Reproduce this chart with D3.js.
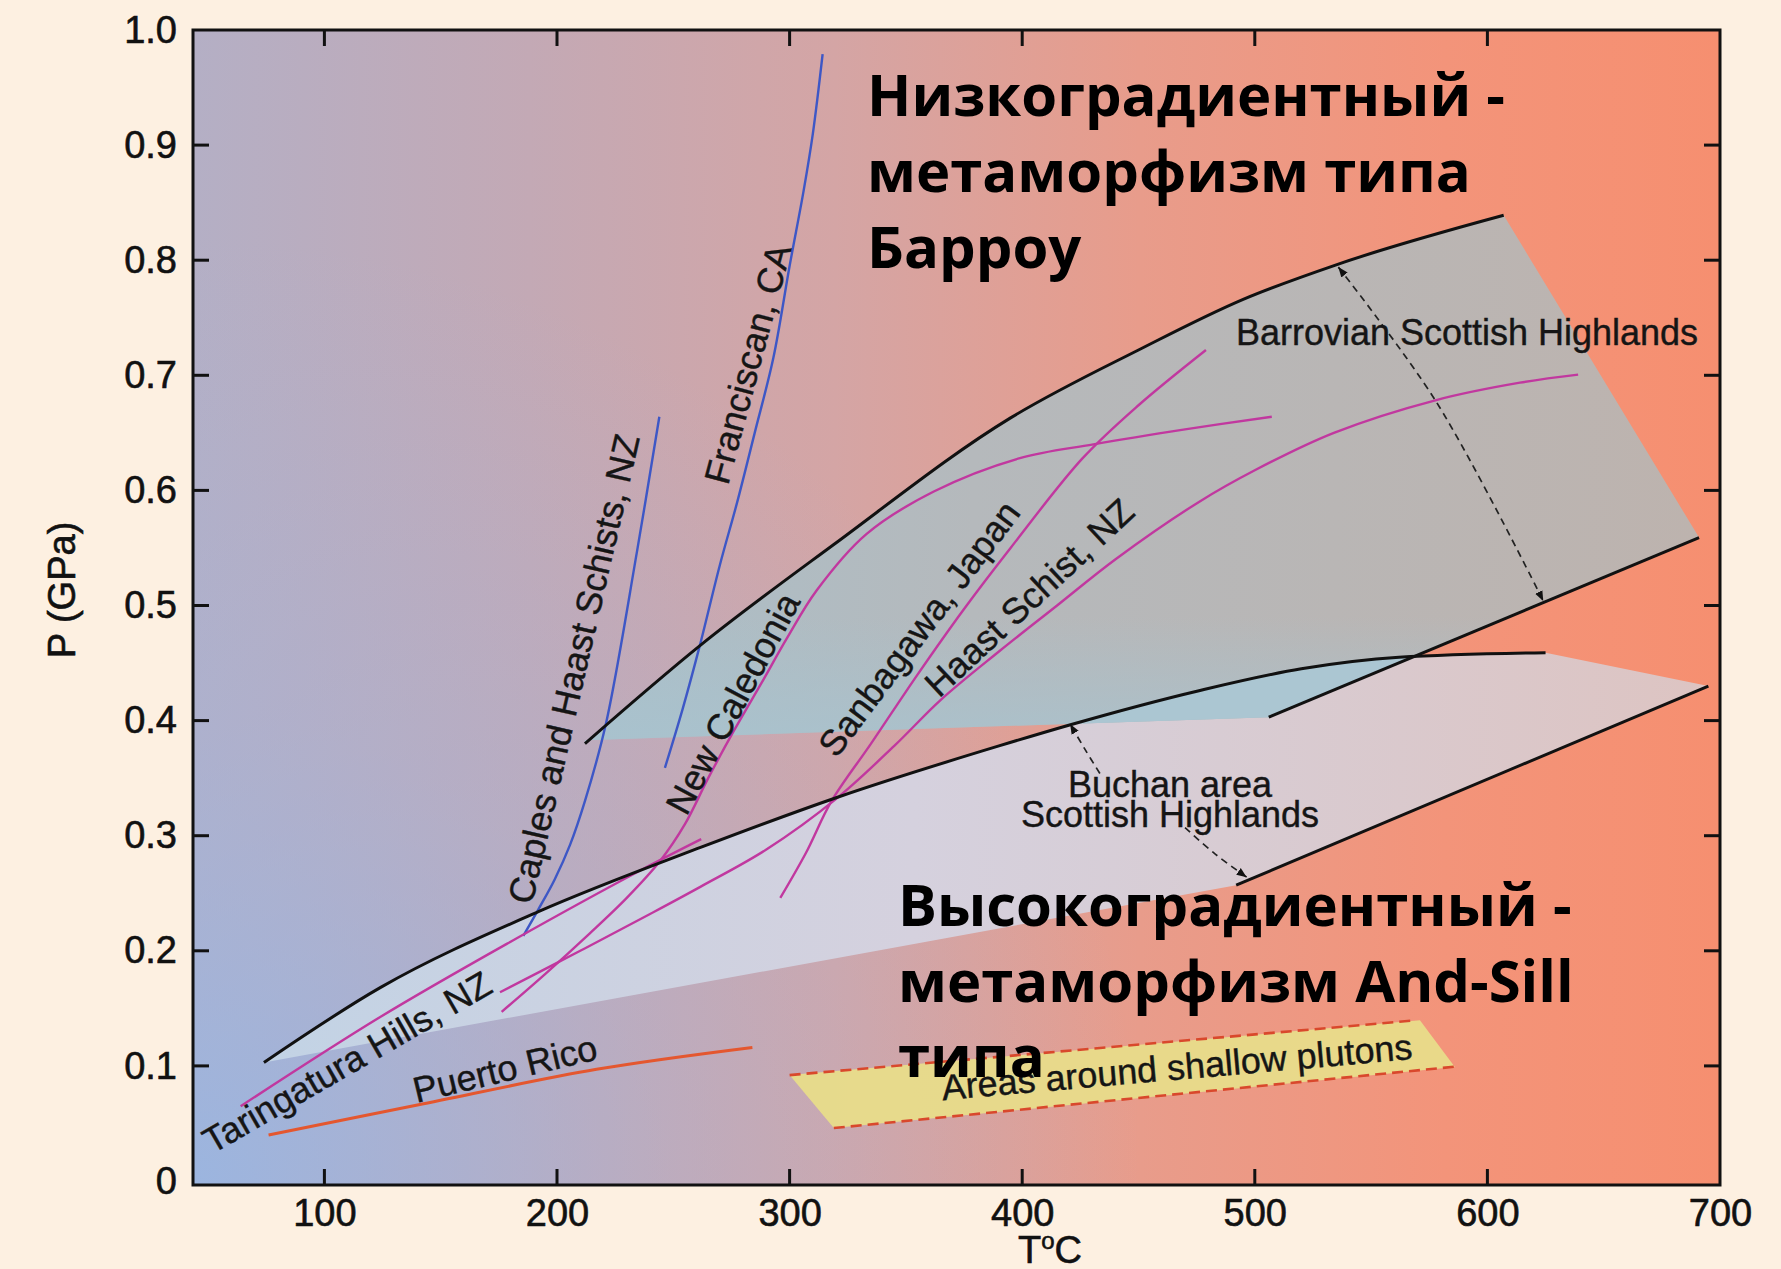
<!DOCTYPE html>
<html>
<head>
<meta charset="utf-8">
<script src="https://cdn.jsdelivr.net/npm/d3@7"></script>
<style>
  html, body { margin: 0; padding: 0; background: #fdf0e1; }
  svg { display: block; }
  .tick-label { font-family: "Liberation Sans", Arial, sans-serif; font-size: 38px; fill: #111; stroke: #111; stroke-width: 0.6px; }
  .label { font-family: "Liberation Sans", Arial, sans-serif; font-size: 36px; fill: #151515; stroke: #151515; stroke-width: 0.4px; }
  .ru { font-family: "Open Sans", "Liberation Sans", sans-serif; font-weight: 700; font-size: 58px; fill: #000; }
</style>
</head>
<body>
<svg id="chart" width="1781" height="1269"></svg>
<script>
// ---- axes ----
const xTickValues = [100, 200, 300, 400, 500, 600, 700];
const yTickValues = [0, 0.1, 0.2, 0.3, 0.4, 0.5, 0.6, 0.7, 0.8, 0.9, 1.0];
const yTickLabels = ["0", "0.1", "0.2", "0.3", "0.4", "0.5", "0.6", "0.7", "0.8", "0.9", "1.0"];

// ---- field boundaries, [T (°C), P (GPa)] ----
const barrovianUpper = [[212, 0.380], [262, 0.466], [319, 0.553], [395, 0.663], [450, 0.722], [495, 0.766], [535, 0.796], [607, 0.839]];
const barrovianLower = [[506, 0.403], [691, 0.559]];
const barrovianBase = [[506, 0.403], [212, 0.383]];
const buchanUpper = [[74, 0.103], [124, 0.168], [192, 0.234], [262, 0.290], [320, 0.333], [390, 0.378], [420, 0.396], [476, 0.426], [520, 0.445], [562, 0.455], [625, 0.459]];
const buchanLower = [[492, 0.257], [695, 0.430]];

// ---- metamorphic field gradients ----
const caples = [[185.5, 0.213], [192, 0.236], [199, 0.262], [205.6, 0.292], [212, 0.33], [221, 0.397], [234.4, 0.547], [244, 0.664]];
const franciscan = [[246.4, 0.359], [254, 0.41], [261.5, 0.466], [270, 0.535], [277.5, 0.59], [285, 0.65], [293, 0.715], [300, 0.795], [306, 0.86], [310, 0.91], [314.2, 0.979]];
const taringatura = [[64, 0.065], [124, 0.1425], [181, 0.209], [236, 0.27], [262, 0.297]];
const newCaledonia = [[176.2, 0.147], [195, 0.18], [214, 0.215], [230, 0.246], [244.3, 0.278], [255, 0.31], [265, 0.35], [276, 0.391], [288, 0.433], [299, 0.472], [311.6, 0.513], [333, 0.562], [362, 0.599], [399, 0.628], [430.6, 0.640], [470, 0.653], [507.3, 0.664]];
const sanbagawa = [[296, 0.246], [307, 0.285], [318, 0.33], [335, 0.38], [355, 0.44], [375, 0.497], [395, 0.55], [426, 0.628], [450, 0.674], [479, 0.722]];
const haastSchist = [[175.5, 0.164], [210, 0.2], [240, 0.232], [262, 0.256], [290, 0.288], [320, 0.332], [345, 0.378], [365, 0.418], [390, 0.460], [415, 0.500], [440, 0.540], [476, 0.590], [500, 0.6175], [534, 0.650], [578, 0.6785], [614, 0.6936], [639, 0.7006]];
const puertoRico = [[76, 0.040], [140, 0.066], [217, 0.097], [284, 0.116]];

// ---- contact aureoles around shallow plutons ----
const plutonField = [[300, 0.092], [571, 0.1396], [586, 0.099], [319, 0.046]];
const plutonTop = [[300, 0.092], [567, 0.1392]];
const plutonBottom = [[319, 0.046], [587, 0.0995]];

// ---- dashed arrows spanning the Scottish fields ----
const barrovianArrow = [[535.9, 0.794], [578, 0.677], [624, 0.504]];
const buchanArrowTop = [[420.6, 0.397], [427, 0.375], [433.4, 0.354]];
const buchanArrowBottom = [[470, 0.307], [483, 0.284], [496.5, 0.264]];

// ---- labels ----
const curveLabels = [
  { text: "Taringatura Hills, NZ", T: 109.7, P: 0.1034, angle: -30 },
  { text: "Puerto Rico", T: 177.6, P: 0.0976, angle: -13.5 },
  { text: "Caples and Haast Schists, NZ", T: 207.2, P: 0.445, angle: -77 },
  { text: "Franciscan, CA", T: 282, P: 0.71, angle: -75 },
  { text: "New Caledonia", T: 275.5, P: 0.415, angle: -62 },
  { text: "Sanbagawa, Japan", T: 355.6, P: 0.48, angle: -53 },
  { text: "Haast Schist, NZ", T: 403, P: 0.507, angle: -43 }
];
const fieldLabels = [
  { lines: ["Barrovian Scottish Highlands"], x: 1467, y: [345] },
  { lines: ["Buchan area", "Scottish Highlands"], x: 1170, y: [797, 827] }
];
const plutonLabel = { text: "Areas around shallow plutons", T: 466.5, P: 0.099, angle: -5 };
const ruTop = ["Низкоградиентный -", "метаморфизм типа", "Барроу"];
const ruBottom = ["Высокоградиентный -", "метаморфизм And-Sill", "типа"];

// ---- layout ----
const svg = d3.select("#chart");
const frameLeft = 193, frameRight = 1720, frameTop = 30, frameBottom = 1185;
const x = d3.scaleLinear().domain([200, 700]).range([557, 1720]);
const y = d3.scaleLinear().domain([0, 1]).range([1181, 30]);

const defs = svg.append("defs");

const bg = defs.append("linearGradient").attr("id", "bg").attr("gradientUnits", "userSpaceOnUse")
  .attr("x1", frameLeft).attr("x2", frameRight).attr("y1", 0).attr("y2", 0);
[["0", "#b4afc5"], ["0.22", "#c3a9b5"], ["0.42", "#d4a5a5"], ["0.62", "#e89c8b"], ["0.82", "#f3947a"], ["1", "#f68f70"]]
  .forEach(([o, c]) => bg.append("stop").attr("offset", o).attr("stop-color", c));

const blueWash = defs.append("radialGradient").attr("id", "blueWash").attr("gradientUnits", "userSpaceOnUse")
  .attr("cx", frameLeft).attr("cy", frameBottom).attr("r", 950);
blueWash.append("stop").attr("offset", "0").attr("stop-color", "#97b6e4").attr("stop-opacity", 0.85);
blueWash.append("stop").attr("offset", "0.5").attr("stop-color", "#a2b4dc").attr("stop-opacity", 0.35);
blueWash.append("stop").attr("offset", "1").attr("stop-color", "#a2b4dc").attr("stop-opacity", 0);

const grayFill = defs.append("linearGradient").attr("id", "grayFill").attr("gradientUnits", "userSpaceOnUse")
  .attr("x1", x(212)).attr("x2", x(690)).attr("y1", 0).attr("y2", 0);
[["0", "#aabfc9"], ["0.35", "#b5b9bc"], ["1", "#bdb3ae"]]
  .forEach(([o, c]) => grayFill.append("stop").attr("offset", o).attr("stop-color", c));

const grayBaseWash = defs.append("linearGradient").attr("id", "grayBaseWash").attr("gradientUnits", "userSpaceOnUse")
  .attr("x1", 0).attr("x2", 0).attr("y1", y(0.39)).attr("y2", y(0.49));
grayBaseWash.append("stop").attr("offset", "0").attr("stop-color", "#a8c3cf").attr("stop-opacity", 0.75);
grayBaseWash.append("stop").attr("offset", "1").attr("stop-color", "#a8c3cf").attr("stop-opacity", 0);

const lightFill = defs.append("linearGradient").attr("id", "lightFill").attr("gradientUnits", "userSpaceOnUse")
  .attr("x1", x(74)).attr("x2", x(695)).attr("y1", 0).attr("y2", 0);
[["0", "#c2d3e5"], ["0.45", "#d5d1de"], ["1", "#ddc4c2"]]
  .forEach(([o, c]) => lightFill.append("stop").attr("offset", o).attr("stop-color", c));

defs.append("clipPath").attr("id", "plotClip").append("rect")
  .attr("x", frameLeft).attr("y", frameTop).attr("width", frameRight - frameLeft).attr("height", frameBottom - frameTop);

const arrow = defs.append("marker").attr("id", "arrowHead").attr("viewBox", "0 0 10 10")
  .attr("refX", 10).attr("refY", 5).attr("markerWidth", 10).attr("markerHeight", 10)
  .attr("markerUnits", "userSpaceOnUse").attr("orient", "auto-start-reverse");
arrow.append("path").attr("d", "M0,1 L10,5 L0,9 Z").attr("fill", "#111");

// curve helpers
const smooth = d3.line().x(d => x(d[0])).y(d => y(d[1])).curve(d3.curveMonotoneX);
const smoothXY = d3.line().x(d => x(d[0])).y(d => y(d[1])).curve(d3.curveCatmullRom.alpha(0.5));
const straight = d3.line().x(d => x(d[0])).y(d => y(d[1]));
const appendPts = pts => pts.map(p => "L" + x(p[0]) + "," + y(p[1])).join("");

// background
const plot = svg.append("g").attr("clip-path", "url(#plotClip)");
plot.append("rect").attr("x", frameLeft).attr("y", frameTop).attr("width", frameRight - frameLeft).attr("height", frameBottom - frameTop).attr("fill", "url(#bg)");
plot.append("rect").attr("x", frameLeft).attr("y", frameTop).attr("width", frameRight - frameLeft).attr("height", frameBottom - frameTop).attr("fill", "url(#blueWash)");

// Buchan field (light band)
const buchanPath = smooth(buchanUpper) + appendPts([buchanLower[1], buchanLower[0]]) + "Z";
plot.append("path").attr("d", buchanPath).attr("fill", "url(#lightFill)");

// Barrovian field (gray band, bluish towards its base)
const barrovianPath = smooth(barrovianUpper) + appendPts([barrovianLower[1], barrovianLower[0], barrovianBase[1]]) + "Z";
plot.append("path").attr("d", barrovianPath).attr("fill", "url(#grayFill)");
plot.append("path").attr("d", barrovianPath).attr("fill", "url(#grayBaseWash)");

// overlap of the two fields
defs.append("clipPath").attr("id", "buchanClip").append("path").attr("d", buchanPath);
plot.append("path").attr("d", barrovianPath).attr("fill", "#abc6d2").attr("clip-path", "url(#buchanClip)");

// shallow pluton aureoles
plot.append("path").attr("d", straight(plutonField) + "Z").attr("fill", "#e8dc8a").attr("opacity", 0.95);
[plutonTop, plutonBottom].forEach(seg => plot.append("path").attr("d", straight(seg))
  .attr("fill", "none").attr("stroke", "#d9482c").attr("stroke-width", 2.6).attr("stroke-dasharray", "11,6"));

// gradient lines
const lineStyle = [
  [caples, "#3d57c6", 2.4], [franciscan, "#3d57c6", 2.4],
  [taringatura, "#c1389f", 2.4], [newCaledonia, "#c1389f", 2.4], [sanbagawa, "#c1389f", 2.4], [haastSchist, "#c1389f", 2.4],
  [puertoRico, "#e4572f", 3]
];
lineStyle.forEach(([pts, color, w]) => plot.append("path").attr("d", smoothXY(pts))
  .attr("fill", "none").attr("stroke", color).attr("stroke-width", w));

// field boundaries
[barrovianUpper, buchanUpper].forEach(pts => plot.append("path").attr("d", smooth(pts))
  .attr("fill", "none").attr("stroke", "#111").attr("stroke-width", 3));
[barrovianLower, buchanLower].forEach(pts => plot.append("path").attr("d", straight(pts))
  .attr("fill", "none").attr("stroke", "#111").attr("stroke-width", 3));

// dashed double arrows
plot.append("path").attr("d", smoothXY(barrovianArrow)).attr("fill", "none").attr("stroke", "#222")
  .attr("stroke-width", 1.7).attr("stroke-dasharray", "7,5")
  .attr("marker-start", "url(#arrowHead)").attr("marker-end", "url(#arrowHead)");
plot.append("path").attr("d", smoothXY(buchanArrowTop.slice().reverse())).attr("fill", "none").attr("stroke", "#222")
  .attr("stroke-width", 1.7).attr("stroke-dasharray", "7,5").attr("marker-end", "url(#arrowHead)");
plot.append("path").attr("d", smoothXY(buchanArrowBottom)).attr("fill", "none").attr("stroke", "#222")
  .attr("stroke-width", 1.7).attr("stroke-dasharray", "7,5").attr("marker-end", "url(#arrowHead)");

// labels along the gradients
curveLabels.forEach(l => svg.append("text").attr("class", "label")
  .attr("transform", `translate(${x(l.T)},${y(l.P)}) rotate(${l.angle})`)
  .attr("text-anchor", "middle").attr("dy", "0.35em").text(l.text));
svg.append("text").attr("class", "label")
  .attr("transform", `translate(${x(plutonLabel.T)},${y(plutonLabel.P)}) rotate(${plutonLabel.angle})`)
  .attr("text-anchor", "middle").attr("dy", "0.35em").text(plutonLabel.text);
fieldLabels.forEach(f => f.lines.forEach((t, i) => svg.append("text").attr("class", "label")
  .attr("x", f.x).attr("y", f.y[i]).attr("text-anchor", "middle").text(t)));

// frame and ticks
const frame = svg.append("g");
frame.append("rect").attr("x", frameLeft).attr("y", frameTop).attr("width", frameRight - frameLeft).attr("height", frameBottom - frameTop)
  .attr("fill", "none").attr("stroke", "#111").attr("stroke-width", 3);
const xAxisBottom = d3.axisBottom(x).tickValues(xTickValues).tickSize(0).tickFormat(d3.format("d"));
const gxb = frame.append("g").attr("transform", `translate(0,${frameBottom})`).call(xAxisBottom);
gxb.select(".domain").remove();
gxb.selectAll("text").attr("class", "tick-label").attr("y", 41).attr("dy", 0).attr("fill", null);
xTickValues.filter(v => v < 700).forEach(v => {
  frame.append("line").attr("x1", x(v)).attr("x2", x(v)).attr("y1", frameBottom).attr("y2", frameBottom - 16).attr("stroke", "#111").attr("stroke-width", 3);
  frame.append("line").attr("x1", x(v)).attr("x2", x(v)).attr("y1", frameTop).attr("y2", frameTop + 16).attr("stroke", "#111").attr("stroke-width", 3);
});
const yAxisLeft = d3.axisLeft(y).tickValues(yTickValues).tickSize(0).tickFormat((d, i) => yTickLabels[i]);
const gyl = frame.append("g").attr("transform", `translate(${frameLeft},0)`).call(yAxisLeft);
gyl.select(".domain").remove();
gyl.selectAll("text").attr("class", "tick-label").attr("x", -16).attr("fill", null);
yTickValues.filter(v => v > 0 && v < 1).forEach(v => {
  frame.append("line").attr("x1", frameLeft).attr("x2", frameLeft + 16).attr("y1", y(v)).attr("y2", y(v)).attr("stroke", "#111").attr("stroke-width", 3);
  frame.append("line").attr("x1", frameRight).attr("x2", frameRight - 16).attr("y1", y(v)).attr("y2", y(v)).attr("stroke", "#111").attr("stroke-width", 3);
});

// axis titles
const xTitle = svg.append("text").attr("class", "tick-label").attr("x", 1050).attr("y", 1263).attr("text-anchor", "middle");
xTitle.append("tspan").text("T");
xTitle.append("tspan").attr("dy", -14).attr("font-size", 24).text("o");
xTitle.append("tspan").attr("dy", 14).text("C");
svg.append("text").attr("class", "tick-label").attr("transform", "translate(75,590) rotate(-90)")
  .attr("text-anchor", "middle").text("P (GPa)");

// headings over the diagram
ruTop.forEach((t, i) => svg.append("text").attr("class", "ru").attr("x", 867).attr("y", 116 + i * 76).text(t));
ruBottom.forEach((t, i) => svg.append("text").attr("class", "ru").attr("x", 898).attr("y", 926 + i * 75.5).text(t));
</script>
</body>
</html>
